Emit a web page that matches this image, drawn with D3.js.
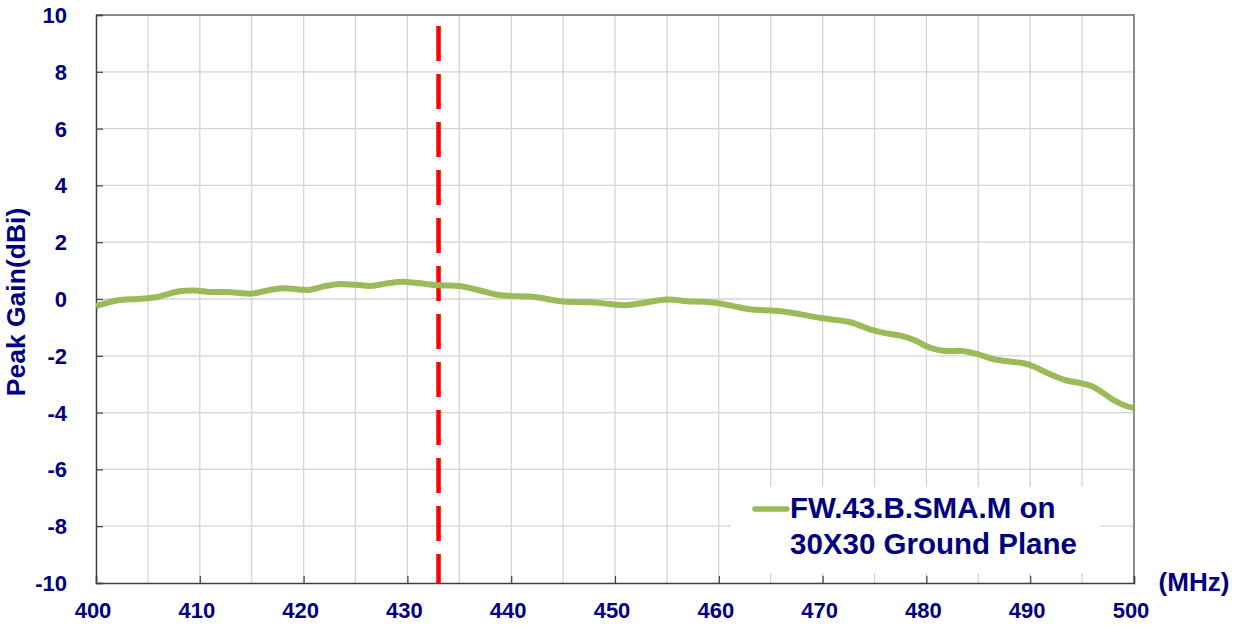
<!DOCTYPE html>
<html><head><meta charset="utf-8">
<script src="https://cdn.jsdelivr.net/npm/d3@7"></script>
<style>
html,body{margin:0;padding:0;background:#fff;}
svg{display:block;font-family:"Liberation Sans",Arial,sans-serif;font-weight:bold;}
</style></head>
<body>
<svg id="chart" width="1240" height="627"></svg>
<script>
const freqs = [400,402,404,405,406,408,409.5,411,413,415,416.5,418,420.5,422,423.5,425,426.5,428,429.5,431,433,435,437,438.5,440,442,443.5,445,448,449.5,451,453,455,457,458.5,460,461.5,463,466,468,470,472.5,473.5,474.5,476,477.5,479,480,481,482,483.5,485,486.5,488,489.5,490.5,491.5,492.5,493.5,495,496,497,498,499,500];
const gains = [-0.25,-0.05,0.0,0.03,0.08,0.27,0.30,0.25,0.24,0.19,0.30,0.38,0.32,0.45,0.53,0.50,0.46,0.55,0.61,0.56,0.48,0.46,0.30,0.16,0.11,0.08,0.0,-0.09,-0.12,-0.18,-0.22,-0.12,-0.02,-0.08,-0.10,-0.15,-0.26,-0.36,-0.43,-0.55,-0.68,-0.80,-0.92,-1.06,-1.20,-1.29,-1.47,-1.66,-1.78,-1.83,-1.83,-1.95,-2.12,-2.20,-2.27,-2.40,-2.58,-2.74,-2.87,-2.97,-3.08,-3.30,-3.55,-3.73,-3.84];
const xTicks = [400,410,420,430,440,450,460,470,480,490,500];
const xGrid = d3.range(400, 501, 5);
const yTicks = [-10,-8,-6,-4,-2,0,2,4,6,8,10];
const markerFreq = 433;
const seriesName = ["FW.43.B.SMA.M on", "30X30 Ground Plane"];
const yTitle = "Peak Gain(dBi)";
const xUnit = "(MHz)";

const navy = "#000080";
const svg = d3.select("#chart");
const L = 96, R = 1134, T = 15, B = 583;
const x = d3.scaleLinear().domain([400, 500]).range([L, R]);
const y = d3.scaleLinear().domain([-10, 10]).range([B, T]);

// grid
svg.append("g").selectAll("line").data(xGrid.slice(1, -1)).join("line")
  .attr("x1", d => x(d)).attr("x2", d => x(d)).attr("y1", T).attr("y2", B)
  .attr("stroke", "#d4d4d4").attr("stroke-width", 1.3);
svg.append("g").selectAll("line").data(yTicks.slice(1, -1)).join("line")
  .attr("x1", L).attr("x2", R).attr("y1", d => y(d)).attr("y2", d => y(d))
  .attr("stroke", "#d4d4d4").attr("stroke-width", 1.3);

// top & right border
svg.append("path").attr("d", `M${L},${T}H${R}V${B}`).attr("fill", "none")
  .attr("stroke", "#8c8c8c").attr("stroke-width", 2);

// legend background
svg.append("rect").attr("x", 731).attr("y", 487).attr("width", 369).attr("height", 86).attr("fill", "#fff");

// left axis
const yAxis = d3.axisRight(y).tickValues(yTicks).tickSize(7).tickFormat("");
const gy = svg.append("g").attr("transform", `translate(${L},0)`).call(yAxis);
gy.select(".domain").attr("stroke", "#404040").attr("stroke-width", 1.5);
gy.selectAll(".tick line").attr("stroke", "#404040").attr("stroke-width", 1.2);
// bottom axis
const xAxis = d3.axisTop(x).tickValues(xTicks).tickSize(7).tickFormat("");
const gx = svg.append("g").attr("transform", `translate(0,${B})`).call(xAxis);
gx.select(".domain").attr("stroke", "#404040").attr("stroke-width", 1.5);
gx.selectAll(".tick line").attr("stroke", "#404040").attr("stroke-width", 1.2);

// tick labels
svg.append("g").selectAll("text").data(yTicks).join("text")
  .attr("x", 67).attr("y", d => y(d)).attr("dy", "0.36em")
  .attr("text-anchor", "end").attr("font-size", 22).attr("fill", navy)
  .text(d => d);
svg.append("g").selectAll("text").data(xTicks).join("text")
  .attr("x", d => x(d) - 3).attr("y", 618)
  .attr("text-anchor", "middle").attr("font-size", 22).attr("fill", navy)
  .text(d => d);

svg.append("text").attr("x", 1194).attr("y", 591).attr("text-anchor", "middle")
  .attr("font-size", 26).attr("fill", navy).text(xUnit);
svg.append("text").attr("transform", "translate(25,302) rotate(-90)")
  .attr("text-anchor", "middle").attr("font-size", 26.5).attr("fill", navy).text(yTitle);

// marker line
svg.append("line").attr("x1", x(markerFreq)).attr("x2", x(markerFreq))
  .attr("y1", 26).attr("y2", B).attr("stroke", "#ff0000").attr("stroke-width", 4.5)
  .attr("stroke-dasharray", "35,13");

// series
const line = d3.line().x((d, i) => x(freqs[i])).y(d => y(d)).curve(d3.curveCatmullRom.alpha(0.5));
svg.append("path").datum(gains).attr("d", line).attr("fill", "none")
  .attr("stroke", "#9bbb59").attr("stroke-width", 6).attr("stroke-linecap", "butt");

// legend
svg.append("line").attr("x1", 755).attr("x2", 787).attr("y1", 509).attr("y2", 509)
  .attr("stroke", "#9bbb59").attr("stroke-width", 5.5).attr("stroke-linecap", "round");
svg.append("g").selectAll("text").data(seriesName).join("text")
  .attr("x", 790).attr("y", (d, i) => 518 + i * 36)
  .attr("font-size", 29.5).attr("fill", navy).text(d => d);
</script>
</body></html>
